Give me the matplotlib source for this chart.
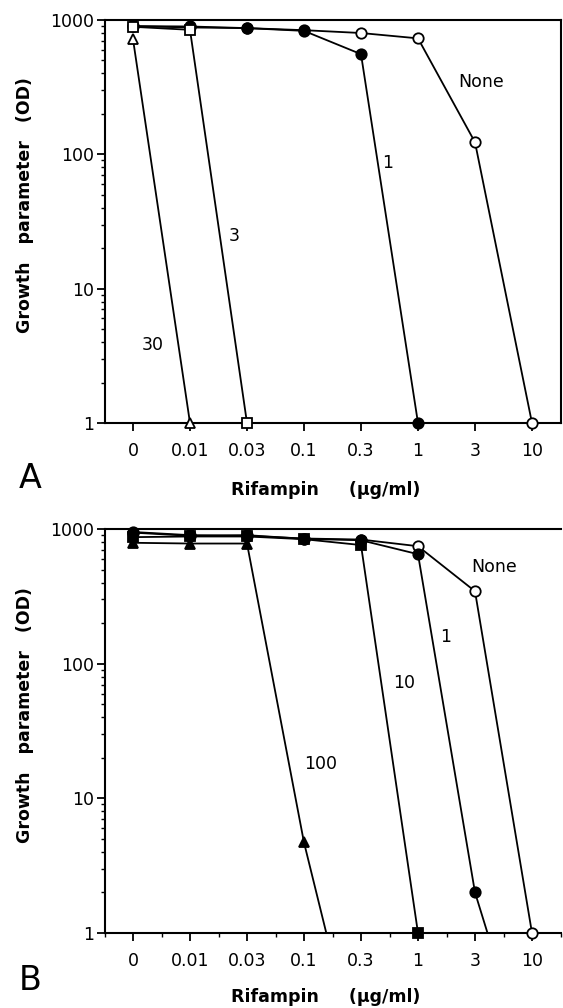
import matplotlib
matplotlib.use('Agg')
import matplotlib.pyplot as plt
import numpy as np
from matplotlib.ticker import LogLocator, NullFormatter, FixedLocator, FixedFormatter

plt.rcParams['font.family'] = ['DejaVu Sans']

# Rifampin concentrations (categorical, equally spaced)
x_labels = ['0', '0.01', '0.03', '0.1', '0.3', '1', '3', '10']

# Panel A (growth parameter, OD)
a_none = [900, 880, 870, 840, 800, 730, 123, 1]
a_1 = [900, 895, 870, 830, 557, 1]
a_3 = [890, 845, 1]
a_30 = [720, 1]

# Panel B
b_none = [950, 900, 890, 850, 835, 745, 345, 1]
b_1 = [940, 890, 900, 845, 825, 650, 2.0, 0.085]
b_10 = [870, 880, 880, 840, 760, 1]
b_100 = [790, 780, 780, 4.7, 0.09]

# curve annotations: (text, x position index, y value)
a_notes = [('None', 6.1, 345), ('1', 4.47, 86), ('3', 1.77, 24.8), ('30', 0.35, 3.8)]
b_notes = [('None', 6.33, 520), ('1', 5.49, 157), ('10', 4.75, 72), ('100', 3.3, 18)]

W, H = 563, 1008
fig = plt.figure(figsize=(W / 100, H / 100), dpi=100)

def px_axes(left, right, top, bottom):
    return fig.add_axes([left / W, 1 - bottom / H, (right - left) / W, (bottom - top) / H])

axA = px_axes(104.5, 560.5, 20, 423)
axB = px_axes(104.5, 560.5, 529, 933)

lw = 1.3
ms = 7.5
YMIN, YMAX = 1, 1000

def style(ax, minor_x):
    ax.set_yscale('log')
    ax.set_ylim(YMIN, YMAX)
    ax.set_xlim(-0.5, 7.5)
    ax.xaxis.set_major_locator(FixedLocator(range(len(x_labels))))
    ax.xaxis.set_major_formatter(FixedFormatter(x_labels))
    if minor_x:
        ax.xaxis.set_minor_locator(FixedLocator(np.arange(-0.5, 7.6, 1.0)))
    else:
        ax.xaxis.set_minor_locator(FixedLocator([]))
    ax.yaxis.set_major_locator(FixedLocator([1, 10, 100, 1000]))
    ax.yaxis.set_major_formatter(FixedFormatter(['1', '10', '100', '1000']))
    ax.yaxis.set_minor_locator(LogLocator(base=10, subs=np.arange(2, 10)))
    ax.yaxis.set_minor_formatter(NullFormatter())
    ax.tick_params(which='major', direction='out', length=5.5, width=1.3, labelsize=12.5, pad=2)
    ax.tick_params(which='minor', direction='out', length=3, width=1.0)
    ax.tick_params(axis='x', which='major', pad=8)
    for s in ax.spines.values():
        s.set_linewidth(1.5)
    ax.tick_params(top=False, right=False)

def series(ax, vals, marker, face, z):
    x = np.arange(len(vals))
    v = np.asarray(vals, dtype=float)
    ax.plot(x, v, color='black', lw=lw, zorder=z, clip_on=True)
    keep = v >= YMIN
    ax.plot(x[keep], v[keep], linestyle='none', marker=marker, ms=ms,
            mfc=face, mec='black', mew=1.3, zorder=z + 0.5, clip_on=False)

style(axA, False)
series(axA, a_none, 'o', 'white', 3)
series(axA, a_1, 'o', 'black', 4)
series(axA, a_30, '^', 'white', 5)
series(axA, a_3, 's', 'white', 6)

style(axB, True)
axB.spines['right'].set_visible(False)
series(axB, b_none, 'o', 'white', 3)
series(axB, b_100, '^', 'black', 4)
series(axB, b_10, 's', 'black', 5)
series(axB, b_1, 'o', 'black', 6)

for ax, notes in ((axA, a_notes), (axB, b_notes)):
    for t, xi, yv in notes:
        ax.text(xi, yv, t, fontsize=12.5, ha='center', va='center')

# axis labels and panel letters
for ycen, xlab_y, letter, let_y in ((205, 490, 'A', 478), (715, 997, 'B', 980)):
    fig.text(25 / W, 1 - ycen / H, 'Growth   parameter   (OD)', rotation=90,
             fontsize=12.5, fontweight='bold', ha='center', va='center')
    fig.text(326 / W, 1 - xlab_y / H, 'Rifampin     (\u03bcg/ml)',
             fontsize=12.5, fontweight='bold', ha='center', va='center')
    fig.text(30 / W, 1 - let_y / H, letter, fontsize=24, ha='center', va='center')

fig.savefig('out.png', dpi=100)
